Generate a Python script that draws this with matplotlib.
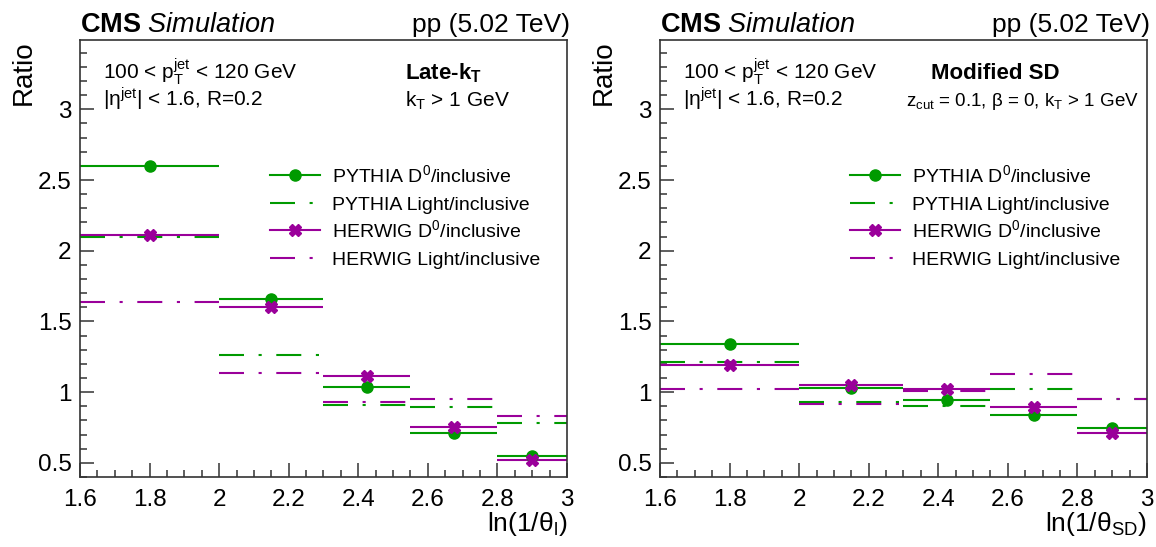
import matplotlib
matplotlib.use("Agg")
import matplotlib.pyplot as plt
from matplotlib.lines import Line2D
from matplotlib.legend_handler import HandlerLine2D
from matplotlib.ticker import MultipleLocator, FuncFormatter
import numpy as np

plt.rcParams['font.family'] = ['Liberation Sans', 'DejaVu Sans']
plt.rcParams['mathtext.fontset'] = 'custom'
plt.rcParams['mathtext.rm'] = 'Liberation Sans'
plt.rcParams['mathtext.it'] = 'Liberation Sans:italic'
plt.rcParams['mathtext.bf'] = 'Liberation Sans:bold'

# bin edges in ln(1/theta)
bin_edges = [1.6, 2.0, 2.3, 2.55, 2.8, 3.0]

# Late-kT panel
lkt_pythia_d0 = [2.60, 1.656, 1.033, 0.711, 0.551]
lkt_pythia_light = [2.099, 1.261, 0.906, 0.894, 0.784]
lkt_herwig_d0 = [2.111, 1.605, 1.111, 0.751, 0.520]
lkt_herwig_light = [1.635, 1.132, 0.929, 0.955, 0.833]

# Modified SD panel
msd_pythia_d0 = [1.340, 1.030, 0.941, 0.836, 0.744]
msd_pythia_light = [1.214, 0.927, 0.899, 1.019, 0.955]
msd_herwig_d0 = [1.192, 1.049, 1.021, 0.894, 0.709]
msd_herwig_light = [1.023, 0.913, 1.009, 1.129, 0.953]

labels = ["PYTHIA D$^{\\mathrm{0}}$/inclusive", "PYTHIA Light/inclusive",
          "HERWIG D$^{\\mathrm{0}}$/inclusive", "HERWIG Light/inclusive"]

green = '#009a00'
purple = '#9a009a'
dashdot = (0, (12, 7, 1.5, 7))

edges = np.array(bin_edges)
centers = 0.5 * (edges[:-1] + edges[1:])
halfw = 0.5 * (edges[1:] - edges[:-1])


# legend line sits a bit lower so it lines up with the middle of the text
class LowerLine(HandlerLine2D):
    def create_artists(self, legend, orig_handle, xdescent, ydescent, width, height, fontsize, trans):
        return super().create_artists(legend, orig_handle, xdescent, ydescent + 4.4,
                                      width, height, fontsize, trans)


def draw_panel(ax, pd0, plight, hd0, hlight, title, cut_text, title_x, xlab):
    ax.hlines(plight, edges[:-1], edges[1:], colors=green, linestyles=[dashdot], lw=1.5)
    ax.hlines(hlight, edges[:-1], edges[1:], colors=purple, linestyles=[dashdot], lw=1.5)
    ax.errorbar(centers, pd0, xerr=halfw, fmt='o', color=green, ms=8, elinewidth=1.5, capsize=0)
    ax.errorbar(centers, hd0, xerr=halfw, fmt='X', color=purple, ms=8, elinewidth=1.5, capsize=0)

    ax.set_xlim(1.6, 3.0)
    ax.set_ylim(0.4, 3.49)
    ax.xaxis.set_major_locator(MultipleLocator(0.2))
    ax.xaxis.set_minor_locator(MultipleLocator(0.05))
    ax.yaxis.set_major_locator(MultipleLocator(0.5))
    ax.yaxis.set_minor_locator(MultipleLocator(0.1))
    fmt = FuncFormatter(lambda v, p: '%g' % round(v, 2))
    ax.xaxis.set_major_formatter(fmt)
    ax.yaxis.set_major_formatter(fmt)
    ax.tick_params(which='both', direction='in', top=False, right=False, labelsize=17.5, color='#333333')
    ax.tick_params(which='major', length=10, width=1.1)
    ax.tick_params(which='minor', length=5, width=1.1)
    ax.tick_params(axis='x', pad=9)
    ax.tick_params(axis='y', pad=6)
    for s in ax.spines.values():
        s.set_linewidth(1.2)
        s.set_color('#333333')

    ax.set_ylabel("Ratio", fontsize=20, loc='top')
    ax.yaxis.set_label_coords(-0.088, 1.0)
    ax.set_xlabel(xlab, fontsize=19, loc='right')
    ax.xaxis.set_label_coords(1.0, -0.075)

    ax.text(0.0, 1.018, r"$\mathbf{CMS}$ $\mathit{Simulation}$", transform=ax.transAxes,
            fontsize=19.5, ha='left', va='baseline')
    ax.text(1.006, 1.018, "pp (5.02 TeV)", transform=ax.transAxes,
            fontsize=19, ha='right', va='baseline')

    ax.text(0.047, 0.91, r"100 < $\mathrm{p}_{\mathrm{T}}^{\mathrm{jet}}$ < 120 GeV",
            transform=ax.transAxes, fontsize=15, va='baseline')
    ax.text(0.047, 0.848, r"|η$^{\mathrm{jet}}$| < 1.6, R=0.2",
            transform=ax.transAxes, fontsize=15, va='baseline')
    if title_x is None:
        ax.text(0.667, 0.91, title, transform=ax.transAxes, fontsize=16,
                fontweight='bold', ha='left', va='baseline')
        ax.text(0.667, 0.848, cut_text, transform=ax.transAxes, fontsize=15,
                ha='left', va='baseline')
    else:
        ax.text(title_x, 0.91, title, transform=ax.transAxes, fontsize=16,
                fontweight='bold', ha='center', va='baseline')
        ax.text(0.984, 0.848, cut_text, transform=ax.transAxes, fontsize=13.5,
                ha='right', va='baseline')

    handles = [
        Line2D([], [], color=green, marker='o', ms=8, lw=1.5),
        Line2D([], [], color=green, ls=dashdot, lw=1.5),
        Line2D([], [], color=purple, marker='X', ms=8, lw=1.5),
        Line2D([], [], color=purple, ls=dashdot, lw=1.5),
    ]
    ax.legend(handles, labels, loc='upper left', bbox_to_anchor=(0.39, 0.72),
              frameon=False, fontsize=14, handlelength=2.6, handletextpad=0.6,
              handleheight=1.8, labelspacing=0.0, borderpad=0, borderaxespad=0,
              handler_map={Line2D: LowerLine()})


fig = plt.figure(figsize=(11.56, 5.47), dpi=100)
W, H = 1156, 547
ax1 = fig.add_axes([80 / W, 1 - 477 / H, 487 / W, 437 / H])
ax2 = fig.add_axes([660 / W, 1 - 477 / H, 487 / W, 437 / H])

draw_panel(ax1, lkt_pythia_d0, lkt_pythia_light, lkt_herwig_d0, lkt_herwig_light,
           r"Late-k$_{\mathbf{T}}$", r"k$_{\mathrm{T}}$ > 1 GeV", None,
           r"ln(1/θ$_{\mathrm{l}}$)")
draw_panel(ax2, msd_pythia_d0, msd_pythia_light, msd_herwig_d0, msd_herwig_light,
           "Modified SD", r"z$_{\mathrm{cut}}$ = 0.1, β = 0, k$_{\mathrm{T}}$ > 1 GeV", 0.689,
           r"ln(1/θ$_{\mathrm{SD}}$)")

fig.savefig("out.png", dpi=100)
